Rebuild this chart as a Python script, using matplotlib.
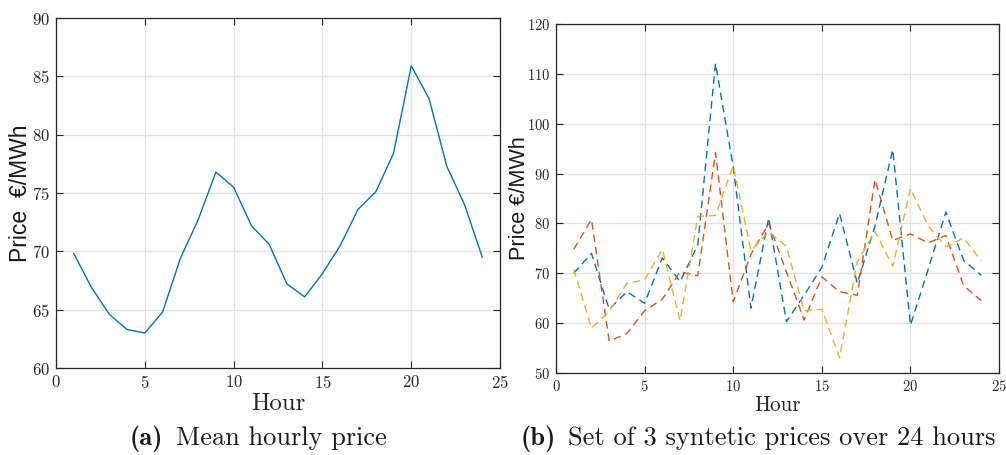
import matplotlib
matplotlib.use("Agg")
import matplotlib.pyplot as plt

# hourly data
hours = list(range(1, 25))
mean_price = [69.8, 66.9, 64.6, 63.3, 63.0, 64.8, 69.4, 72.7, 76.8, 75.5, 72.2, 70.6,
              67.2, 66.1, 68.1, 70.5, 73.6, 75.1, 78.4, 85.9, 83.1, 77.3, 74.0, 69.5]

price_1 = [70.0, 74.0, 62.8, 66.3, 64.0, 73.1, 68.3, 75.7, 112.1, 91.3, 63.0, 81.1,
           60.3, 65.6, 71.2, 82.0, 68.0, 79.5, 94.8, 59.6, 70.8, 82.3, 72.6, 69.6]
price_2 = [74.8, 80.8, 56.4, 57.9, 62.5, 64.8, 70.3, 69.5, 94.2, 64.3, 73.8, 80.0,
           70.3, 60.6, 69.3, 66.3, 65.6, 88.8, 76.6, 77.9, 76.1, 77.6, 67.5, 64.5]
price_3 = [70.8, 59.0, 62.3, 68.0, 68.7, 74.8, 60.5, 81.4, 81.6, 91.6, 74.5, 78.3,
           75.4, 62.5, 62.8, 53.1, 72.3, 78.4, 71.4, 87.0, 79.5, 75.3, 77.1, 72.5]

colors = ["#0072BD", "#D95319", "#EDB120"]

plt.rcParams["font.family"] = "cmr10"
plt.rcParams["mathtext.fontset"] = "cm"
plt.rcParams["axes.formatter.use_mathtext"] = True

fig = plt.figure(figsize=(10.06, 4.55), dpi=100)
ax1 = fig.add_axes([0.0557, 0.1912, 0.4414, 0.769])
ax2 = fig.add_axes([0.5527, 0.1802, 0.4404, 0.767])


def style(ax, ylim, ystep, tick_size, label_size, ylabel, ylab_size, ylab_x,
          xlab_y, pad):
    ax.set_xlim(0, 25)
    ax.set_ylim(*ylim)
    ax.set_xticks(range(0, 26, 5))
    ax.set_yticks(range(ylim[0], ylim[1] + 1, ystep))
    ax.grid(True, color="#e3e3e3", linewidth=1.0)
    ax.set_axisbelow(True)
    for s in ax.spines.values():
        s.set_color("#262626")
        s.set_linewidth(0.9)
    ax.tick_params(direction="in", length=5, width=0.8, color="#262626",
                   top=True, right=True, labelsize=tick_size, pad=pad,
                   labelcolor="#262626")
    ax.set_xlabel("Hour", fontsize=label_size, color="#262626")
    ax.set_ylabel(ylabel, fontsize=ylab_size, family="Liberation Sans",
                  color="#1a1a1a")
    ax.yaxis.set_label_coords(ylab_x, 0.5)
    ax.xaxis.set_label_coords(0.5, xlab_y)


ax1.plot(hours, mean_price, color=colors[0], linewidth=1.0)
style(ax1, (60, 90), 5, 12, 17.8, "Price  €/MWh", 16.5, -0.054, -0.071, 4.5)

for series, c in zip([price_1, price_2, price_3], colors):
    ax2.plot(hours, series, color=c, linewidth=1.0, linestyle=(0, (5.5, 3.5)))
style(ax2, (50, 120), 10, 10.5, 15.3, "Price €/MWh", 15.6, -0.058, -0.063, 4)

# sub-captions: bold tag followed by roman text
cap_size = 19
fig.text(163 / 1006, 0.022, "(a)", family="cmb10", fontsize=cap_size,
         ha="right", va="baseline", color="#1a1a1a")
fig.text(176 / 1006, 0.022, "Mean hourly price", fontsize=cap_size,
         ha="left", va="baseline", color="#1a1a1a")
fig.text(556 / 1006, 0.022, "(b)", family="cmb10", fontsize=cap_size,
         ha="right", va="baseline", color="#1a1a1a")
fig.text(568 / 1006, 0.022, "Set of 3 syntetic prices over 24 hours",
         fontsize=cap_size, ha="left", va="baseline", color="#1a1a1a")

fig.savefig("out.png", dpi=100)
